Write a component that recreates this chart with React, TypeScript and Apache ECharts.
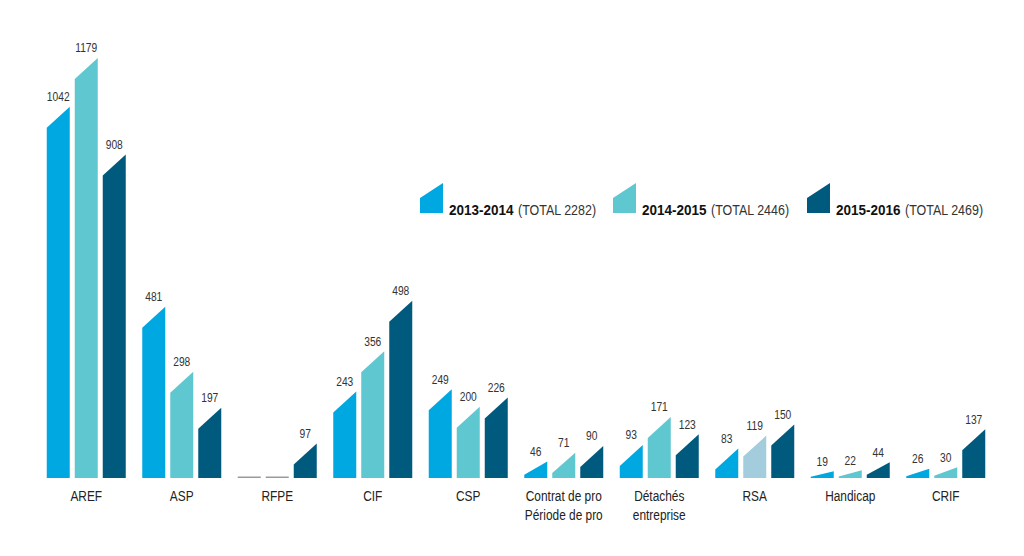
import React, { useEffect, useRef } from "react";
import * as echarts from "echarts";

const categories = [
  "AREF",
  "ASP",
  "RFPE",
  "CIF",
  "CSP",
  "Contrat de pro\nPériode de pro",
  "Détachés\nentreprise",
  "RSA",
  "Handicap",
  "CRIF",
];
const s2013 = [1042, 481, 0, 243, 249, 46, 93, 83, 19, 26];
const s2014 = [1179, 298, 0, 356, 200, 71, 171, 119, 22, 30];
const s2015 = [908, 197, 97, 498, 226, 90, 123, 150, 44, 137];
const seriesNames = ["2013-2014", "2014-2015", "2015-2016"];
const totals = ["(TOTAL 2282)", "(TOTAL 2446)", "(TOTAL 2469)"];
const colors = ["#00a8e1", "#5fc7d0", "#005a7e"];
// RSA 2014-2015 bar drawn in a lighter tone
const overrides: Record<string, string> = { "1-7": "#a3cddc" };

const FONT = "'Liberation Sans', Arial, sans-serif";
const NARROW = 0.82;

export default function App() {
  const ref = useRef<HTMLDivElement>(null);
  useEffect(() => {
    document.body.style.margin = "0";
    const chart = echarts.init(ref.current!, null, { renderer: "svg" });
    const BW = 23;
    const offsets = [-28, 0, 28];
    const makeSeries = (data: number[], si: number) => ({
      type: "custom",
      name: seriesNames[si],
      data: data.map((v, i) => [i, v]),
      renderItem: (params: any, api: any) => {
        const idx = api.value(0);
        const v = api.value(1);
        const base = api.coord([idx, 0]);
        const top = api.coord([idx, v]);
        const cx = base[0] + offsets[si];
        const x0 = cx - BW / 2;
        const x1 = cx + BW / 2;
        if (v === 0) {
          return {
            type: "rect",
            shape: { x: x0, y: base[1] - 1.5, width: BW, height: 1.5 },
            style: { fill: "#9a9a9a" },
          };
        }
        const h = base[1] - top[1];
        const lh = Math.max(h * 0.2, h - 21);
        const fill = overrides[si + "-" + idx] || colors[si];
        return {
          type: "group",
          children: [
            {
              type: "polygon",
              shape: {
                points: [
                  [x0, base[1]],
                  [x0, base[1] - lh],
                  [x1, top[1]],
                  [x1, base[1]],
                ],
              },
              style: { fill },
            },
            {
              type: "text",
              x: cx,
              y: top[1] - 10,
              scaleX: NARROW,
              style: {
                text: String(v),
                x: 0,
                y: 0,
                align: "center",
                verticalAlign: "middle",
                fill: "#333",
                fontSize: 12.5,
                fontFamily: FONT,
              },
            },
          ],
        };
      },
    });

    const labelSeries = {
      type: "custom",
      name: "labels",
      data: categories.map((c, i) => [i, 0]),
      renderItem: (params: any, api: any) => {
        const idx = api.value(0);
        const base = api.coord([idx, 0]);
        return {
          type: "text",
          x: base[0],
          y: base[1] + 9,
          scaleX: NARROW,
          style: {
            text: categories[idx],
            x: 0,
            y: 0,
            align: "center",
            verticalAlign: "top",
            lineHeight: 19,
            fontSize: 14.5,
            fill: "#222",
            fontFamily: FONT,
          },
        };
      },
    };

    const legendX = [420, 613, 807];
    const graphic: any[] = [];
    legendX.forEach((x, i) => {
      graphic.push({
        type: "polygon",
        shape: {
          points: [
            [x, 213],
            [x, 198],
            [x + 23, 183],
            [x + 23, 213],
          ],
        },
        style: { fill: colors[i] },
      });
      graphic.push({
        type: "text",
        x: x + 29,
        y: 210,
        scaleX: 0.9,
        style: {
          text: seriesNames[i],
          verticalAlign: "middle",
          fontWeight: "bold",
          fontSize: 15,
          fill: "#111",
          fontFamily: FONT,
        },
      });
      graphic.push({
        type: "text",
        x: x + 98,
        y: 210,
        scaleX: 0.86,
        style: {
          text: totals[i],
          verticalAlign: "middle",
          fontSize: 14.5,
          fill: "#333",
          fontFamily: FONT,
        },
      });
    });

    chart.setOption({
      animation: false,
      backgroundColor: "#ffffff",
      grid: { left: 38.5, width: 955, top: 50.6, bottom: 78 },
      xAxis: {
        type: "category",
        data: categories,
        axisLine: { show: false },
        axisTick: { show: false },
        splitLine: { show: false },
        axisLabel: { show: false },
      },
      yAxis: {
        type: "value",
        min: 0,
        max: 1200,
        show: false,
        splitLine: { show: false },
      },
      graphic,
      series: [
        makeSeries(s2013, 0),
        makeSeries(s2014, 1),
        makeSeries(s2015, 2),
        labelSeries,
      ],
    });
    return () => chart.dispose();
  }, []);
  return <div ref={ref} style={{ width: 1024, height: 556 }} />;
}
